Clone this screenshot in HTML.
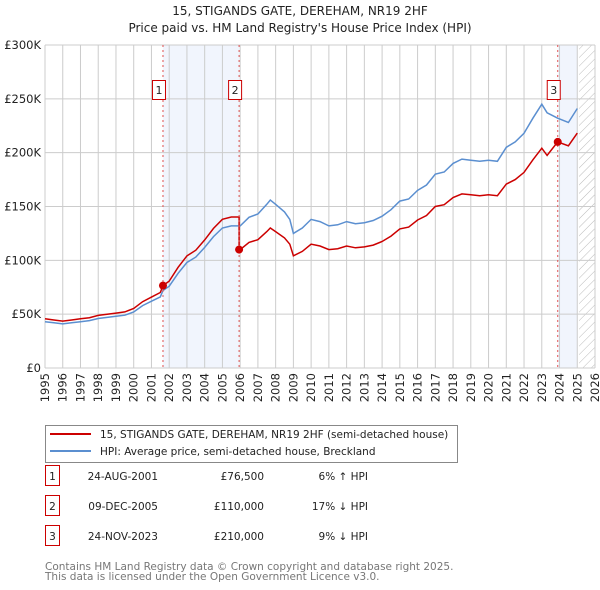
<!DOCTYPE html>
<html><head><meta charset="utf-8"><style>
body{margin:0;background:#fff;font-family:"DejaVu Sans","Liberation Sans",sans-serif;}
svg{display:block;font-family:"DejaVu Sans","Liberation Sans",sans-serif;}
</style></head><body>
<svg id="chart" width="600" height="590" viewBox="0 0 600 590" xmlns="http://www.w3.org/2000/svg">
<defs><pattern id="hatch" width="6" height="6" patternUnits="userSpaceOnUse" patternTransform="rotate(45)"><line x1="0" y1="0" x2="0" y2="6" stroke="#bbb" stroke-width="1"/></pattern></defs>
<text x="300" y="15" text-anchor="middle" font-size="12" fill="#222">15, STIGANDS GATE, DEREHAM, NR19 2HF</text>
<text x="300" y="32" text-anchor="middle" font-size="12" fill="#222">Price paid vs. HM Land Registry's House Price Index (HPI)</text>
<g id="plot"></g>
<g>
<rect x="45.5" y="425.5" width="412" height="37" fill="#fff" stroke="#888"/>
<line x1="50" y1="434" x2="91" y2="434" stroke="#cc0000" stroke-width="2"/>
<text x="100" y="438" font-size="10.5" fill="#222">15, STIGANDS GATE, DEREHAM, NR19 2HF (semi-detached house)</text>
<line x1="50" y1="451" x2="91" y2="451" stroke="#5b8fd0" stroke-width="2"/>
<text x="100" y="455" font-size="10.5" fill="#222">HPI: Average price, semi-detached house, Breckland</text>
</g>
<g id="table" font-size="10.5" fill="#222"></g>
<text x="45" y="570" font-size="10.5" fill="#777">Contains HM Land Registry data © Crown copyright and database right 2025.</text>
<text x="45" y="580" font-size="10.5" fill="#777">This data is licensed under the Open Government Licence v3.0.</text>
</svg>
<script>
const hpiYears=[1995,1995.5,1996,1996.5,1997,1997.5,1998,1998.5,1999,1999.5,2000,2000.5,2001,2001.5,2001.65,2002,2002.5,2003,2003.5,2004,2004.5,2005,2005.5,2006,2006.5,2007,2007.5,2007.7,2008,2008.5,2008.8,2009,2009.5,2010,2010.5,2011,2011.5,2012,2012.5,2013,2013.5,2014,2014.5,2015,2015.5,2016,2016.5,2017,2017.5,2018,2018.5,2019,2019.5,2020,2020.5,2021,2021.5,2022,2022.5,2023,2023.3,2023.9,2024.5,2025];
const hpiValues=[43,42,41,42,43,44,46,47,48,49,52,58,62,66,72,76,88,98,103,112,122,130,132,132,140,143,152,156,152,145,138,125,130,138,136,132,133,136,134,135,137,141,147,155,157,165,170,180,182,190,194,193,192,193,192,205,210,218,232,245,237,232,228,241];
const saleYears=[2001.65,2005.94,2023.9];
const salePrices=[76.5,110,210];
const saleLabels=["1","2","3"];
const saleDates=["24-AUG-2001","09-DEC-2005","24-NOV-2023"];
const salePriceText=["£76,500","£110,000","£210,000"];
const saleHpiText=["6% ↑ HPI","17% ↓ HPI","9% ↓ HPI"];
const yTicks=[0,50,100,150,200,250,300];
const yTickLabels=["£0","£50K","£100K","£150K","£200K","£250K","£300K"];
const xTicks=[1995,1996,1997,1998,1999,2000,2001,2002,2003,2004,2005,2006,2007,2008,2009,2010,2011,2012,2013,2014,2015,2016,2017,2018,2019,2020,2021,2022,2023,2024,2025,2026];

const NS="http://www.w3.org/2000/svg";
const X0=45,X1=595,Y0=368,Y1=45;
const xs=y=>X0+(y-1995)/(2026-1995)*(X1-X0);
const ys=v=>Y0-v/300*(Y0-Y1);
const plot=document.getElementById('plot');
function mk(tag,attrs,parent){const e=document.createElementNS(NS,tag);for(const k in attrs)e.setAttribute(k,attrs[k]);(parent||plot).appendChild(e);return e;}
function hpiAt(t){for(let i=1;i<hpiYears.length;i++){if(t<=hpiYears[i]){const f=(t-hpiYears[i-1])/(hpiYears[i]-hpiYears[i-1]);return hpiValues[i-1]+f*(hpiValues[i]-hpiValues[i-1]);}}return hpiValues[hpiValues.length-1];}

let e=mk('rect',{x:xs(saleYears[0]),y:Y1,width:xs(saleYears[1])-xs(saleYears[0]),height:Y0-Y1,fill:'#eef3fc',opacity:0.8});

e=mk('rect',{x:xs(saleYears[2]),y:Y1,width:xs(2025)-xs(saleYears[2]),height:Y0-Y1,fill:'#eef3fc',opacity:0.8});

e=mk('rect',{x:xs(2025.1),y:Y1,width:X1-xs(2025.1),height:Y0-Y1,fill:'url(#hatch)'});


yTicks.forEach((v,i)=>{
 let l=mk('line',{x1:X0,x2:X1,y1:ys(v),y2:ys(v),stroke:'#ccc'});
 
 let t=mk('text',{x:X0-4,y:ys(v)+4,'text-anchor':'end','font-size':11.5,fill:'#222'});t.textContent=yTickLabels[i];
 
});
xTicks.forEach(yr=>{
 let l=mk('line',{x1:xs(yr),x2:xs(yr),y1:Y1,y2:Y0,stroke:'#ccc'});
 
 let t=mk('text',{x:0,y:0,'text-anchor':'end','font-size':11.5,fill:'#222',transform:`translate(${xs(yr)+4},${Y0+5}) rotate(-90)`});t.textContent=yr;
 
});

const hp=hpiYears.map((t,i)=>`${xs(t).toFixed(1)},${ys(hpiValues[i]).toFixed(1)}`).join(' ');
e=mk('polyline',{points:hp,fill:'none',stroke:'#5b8fd0','stroke-width':1.5});

const ratios=saleYears.map((t,i)=>salePrices[i]/hpiAt(t));
const pts=[];
hpiYears.forEach((t,i)=>{
 let k=0;for(let j=0;j<saleYears.length;j++)if(t>=saleYears[j])k=j;
 for(let j=0;j<saleYears.length;j++){const p=i>0?hpiYears[i-1]:-1;if(p<saleYears[j]&&t>saleYears[j]&&j>0){pts.push([saleYears[j],hpiAt(saleYears[j])*ratios[j-1]]);pts.push([saleYears[j],salePrices[j]]);}}
 pts.push([t,hpiValues[i]*ratios[k]]);
});
e=mk('polyline',{points:pts.map(p=>`${xs(p[0]).toFixed(1)},${ys(p[1]).toFixed(1)}`).join(' '),fill:'none',stroke:'#cc0000','stroke-width':1.5});


saleYears.forEach((t,i)=>{
 let l=mk('line',{x1:xs(t),x2:xs(t),y1:Y1,y2:Y0,stroke:'#e05050','stroke-dasharray':'2,3','stroke-width':1});
 
 let c=mk('circle',{cx:xs(t),cy:ys(salePrices[i]),r:4,fill:'#cc0000'});
 
 let r=mk('rect',{x:xs(t)-10.5,y:80.5,width:13,height:19,fill:'#fff',stroke:'#cc0000'});
 
 let tx=mk('text',{x:xs(t)-4,y:94,'text-anchor':'middle','font-size':11,fill:'#222'});tx.textContent=saleLabels[i];
 
});

const tb=document.getElementById('table');
saleYears.forEach((t,i)=>{
 const yy=483+i*30;
 let r=mk('rect',{x:45.5,y:yy-17.5,width:14,height:20,fill:'#fff',stroke:'#cc0000'},tb);
 
 let a=mk('text',{x:52.5,y:yy-3,'text-anchor':'middle'},tb);a.textContent=saleLabels[i];
 
 let d=mk('text',{x:158,y:yy-3,'text-anchor':'end'},tb);d.textContent=saleDates[i];
 
 let p=mk('text',{x:264,y:yy-3,'text-anchor':'end'},tb);p.textContent=salePriceText[i];
 
 let h=mk('text',{x:368,y:yy-3,'text-anchor':'end'},tb);h.textContent=saleHpiText[i];
 
});
</script>
</body></html>
